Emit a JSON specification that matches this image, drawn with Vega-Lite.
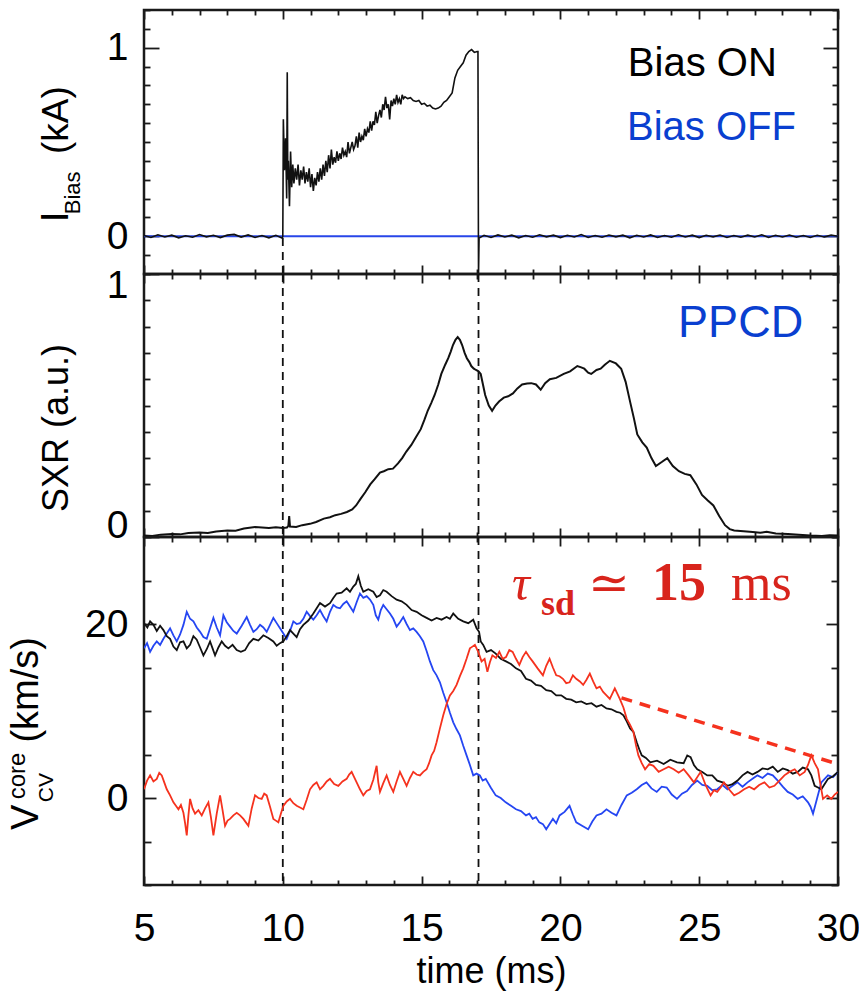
{
  "$schema": "https://vega.github.io/schema/vega-lite/v6.json",
  "padding": {"left": 4, "top": 7, "right": 12, "bottom": 0},
  "background": "white",
  "spacing": 0,
  "bounds": "flush",
  "config": {
    "view": {"stroke": "#1a1a1a", "strokeWidth": 2.5},
    "axis": {"domain": false, "grid": false, "tickColor": "#1a1a1a", "tickWidth": 1.8, "labelFont": "Liberation Sans", "labelFontSize": 39, "labelColor": "#000", "titleFont": "Liberation Sans", "titleFontWeight": "normal", "titleColor": "#000", "labelOverlap": false, "labelFlush": false, "labelBound": false, "minExtent": 0}
  },
  "datasets": {
    "vlines": [{"t": 10}, {"t": 17.05}],
    "axispt": [{"t": 5, "v": 0}],
    "ibias_on": [
      {"t":5.0,"v":0.004},{"t":5.25,"v":-0.006},{"t":5.5,"v":0.008},{"t":5.75,"v":-0.004},{"t":6.0,"v":0.006},{"t":6.25,"v":-0.008},{"t":6.5,"v":0.003},{"t":6.75,"v":-0.005},{"t":7.0,"v":0.009},{"t":7.25,"v":-0.003},{"t":7.5,"v":0.005},{"t":7.75,"v":-0.007},{"t":8.0,"v":0.006},{"t":8.25,"v":0.01},{"t":8.5,"v":-0.004},{"t":8.75,"v":0.007},{"t":9.0,"v":-0.006},{"t":9.25,"v":0.004},{"t":9.5,"v":-0.008},{"t":9.75,"v":0.005},{"t":9.98,"v":-0.01},{"t":10.0,"v":0.0},{"t":10.02,"v":0.62},{"t":10.06,"v":0.35},{"t":10.1,"v":0.52},{"t":10.14,"v":0.2},{"t":10.16,"v":0.87},{"t":10.18,"v":0.3},{"t":10.2,"v":0.4},{"t":10.24,"v":0.16},{"t":10.28,"v":0.45},{"t":10.32,"v":0.26},{"t":10.36,"v":0.38},{"t":10.4,"v":0.28},{"t":10.45,"v":0.36},{"t":10.5,"v":0.3},{"t":10.55,"v":0.38},{"t":10.6,"v":0.27},{"t":10.65,"v":0.35},{"t":10.7,"v":0.3},{"t":10.75,"v":0.37},{"t":10.8,"v":0.28},{"t":10.85,"v":0.34},{"t":10.9,"v":0.29},{"t":10.95,"v":0.36},{"t":11.0,"v":0.26},{"t":11.05,"v":0.33},{"t":11.1,"v":0.24},{"t":11.15,"v":0.31},{"t":11.2,"v":0.27},{"t":11.25,"v":0.34},{"t":11.3,"v":0.29},{"t":11.35,"v":0.36},{"t":11.4,"v":0.3},{"t":11.45,"v":0.38},{"t":11.5,"v":0.32},{"t":11.55,"v":0.4},{"t":11.6,"v":0.34},{"t":11.65,"v":0.43},{"t":11.7,"v":0.36},{"t":11.75,"v":0.46},{"t":11.8,"v":0.38},{"t":11.85,"v":0.42},{"t":11.9,"v":0.39},{"t":11.95,"v":0.45},{"t":12.0,"v":0.4},{"t":12.05,"v":0.44},{"t":12.1,"v":0.41},{"t":12.15,"v":0.47},{"t":12.2,"v":0.43},{"t":12.25,"v":0.45},{"t":12.3,"v":0.42},{"t":12.35,"v":0.5},{"t":12.4,"v":0.44},{"t":12.45,"v":0.47},{"t":12.5,"v":0.5},{"t":12.55,"v":0.46},{"t":12.6,"v":0.48},{"t":12.65,"v":0.53},{"t":12.7,"v":0.47},{"t":12.75,"v":0.55},{"t":12.8,"v":0.5},{"t":12.85,"v":0.53},{"t":12.9,"v":0.51},{"t":12.95,"v":0.57},{"t":13.0,"v":0.53},{"t":13.05,"v":0.57},{"t":13.1,"v":0.55},{"t":13.15,"v":0.61},{"t":13.2,"v":0.56},{"t":13.25,"v":0.61},{"t":13.3,"v":0.59},{"t":13.35,"v":0.66},{"t":13.4,"v":0.6},{"t":13.45,"v":0.64},{"t":13.5,"v":0.67},{"t":13.55,"v":0.63},{"t":13.6,"v":0.7},{"t":13.65,"v":0.67},{"t":13.7,"v":0.74},{"t":13.75,"v":0.68},{"t":13.8,"v":0.7},{"t":13.85,"v":0.62},{"t":13.9,"v":0.72},{"t":13.95,"v":0.69},{"t":14.0,"v":0.73},{"t":14.05,"v":0.7},{"t":14.1,"v":0.75},{"t":14.15,"v":0.71},{"t":14.2,"v":0.73},{"t":14.25,"v":0.7},{"t":14.3,"v":0.75},{"t":14.35,"v":0.73},{"t":14.4,"v":0.74},{"t":14.5,"v":0.73},{"t":14.6,"v":0.735},{"t":14.7,"v":0.72},{"t":14.8,"v":0.715},{"t":14.9,"v":0.72},{"t":15.0,"v":0.7},{"t":15.1,"v":0.705},{"t":15.2,"v":0.69},{"t":15.3,"v":0.695},{"t":15.4,"v":0.68},{"t":15.5,"v":0.675},{"t":15.6,"v":0.68},{"t":15.7,"v":0.69},{"t":15.8,"v":0.71},{"t":15.9,"v":0.72},{"t":16.0,"v":0.74},{"t":16.1,"v":0.76},{"t":16.2,"v":0.84},{"t":16.3,"v":0.88},{"t":16.4,"v":0.9},{"t":16.5,"v":0.92},{"t":16.6,"v":0.96},{"t":16.7,"v":0.98},{"t":16.8,"v":0.99},{"t":16.9,"v":0.975},{"t":17.0,"v":0.98},{"t":17.03,"v":0.98},{"t":17.05,"v":-0.21},{"t":17.07,"v":-0.01},{"t":17.25,"v":0.005},{"t":17.5,"v":-0.006},{"t":17.75,"v":0.007},{"t":18.0,"v":-0.004},{"t":18.25,"v":0.006},{"t":18.5,"v":-0.008},{"t":18.75,"v":0.004},{"t":19.0,"v":-0.005},{"t":19.25,"v":0.008},{"t":19.5,"v":-0.003},{"t":19.75,"v":0.006},{"t":20.0,"v":-0.007},{"t":20.25,"v":0.005},{"t":20.5,"v":-0.004},{"t":20.75,"v":0.009},{"t":21.0,"v":-0.006},{"t":21.25,"v":0.004},{"t":21.5,"v":-0.005},{"t":21.75,"v":0.007},{"t":22.0,"v":-0.003},{"t":22.25,"v":0.006},{"t":22.5,"v":-0.008},{"t":22.75,"v":0.005},{"t":23.0,"v":-0.004},{"t":23.25,"v":0.007},{"t":23.5,"v":-0.006},{"t":23.75,"v":0.004},{"t":24.0,"v":-0.005},{"t":24.25,"v":0.008},{"t":24.5,"v":-0.004},{"t":24.75,"v":0.006},{"t":25.0,"v":-0.007},{"t":25.25,"v":0.005},{"t":25.5,"v":-0.003},{"t":25.75,"v":0.007},{"t":26.0,"v":-0.006},{"t":26.25,"v":0.004},{"t":26.5,"v":-0.005},{"t":26.75,"v":0.006},{"t":27.0,"v":-0.004},{"t":27.25,"v":0.008},{"t":27.5,"v":-0.006},{"t":27.75,"v":0.005},{"t":28.0,"v":-0.004},{"t":28.25,"v":0.007},{"t":28.5,"v":-0.005},{"t":28.75,"v":0.004},{"t":29.0,"v":-0.006},{"t":29.25,"v":0.005},{"t":29.5,"v":-0.004},{"t":29.75,"v":0.006},{"t":30.0,"v":0.0}
    ],
    "ibias_off": [{"t": 5, "v": 0}, {"t": 30, "v": 0}],
    "sxr": [
      {"t":5.0,"v":0.006},{"t":5.3,"v":0.004},{"t":5.6,"v":0.009},{"t":6.0,"v":0.011},{"t":6.3,"v":0.01},{"t":6.6,"v":0.015},{"t":7.0,"v":0.017},{"t":7.3,"v":0.015},{"t":7.6,"v":0.021},{"t":8.0,"v":0.025},{"t":8.3,"v":0.024},{"t":8.6,"v":0.032},{"t":9.0,"v":0.038},{"t":9.25,"v":0.036},{"t":9.5,"v":0.034},{"t":9.75,"v":0.037},{"t":10.0,"v":0.034},{"t":10.15,"v":0.036},{"t":10.2,"v":0.042},{"t":10.23,"v":0.08},{"t":10.26,"v":0.04},{"t":10.48,"v":0.038},{"t":10.7,"v":0.045},{"t":10.98,"v":0.05},{"t":11.2,"v":0.057},{"t":11.48,"v":0.07},{"t":11.7,"v":0.075},{"t":11.89,"v":0.083},{"t":12.1,"v":0.088},{"t":12.31,"v":0.095},{"t":12.5,"v":0.105},{"t":12.64,"v":0.12},{"t":12.8,"v":0.145},{"t":12.97,"v":0.17},{"t":13.15,"v":0.2},{"t":13.31,"v":0.22},{"t":13.5,"v":0.245},{"t":13.64,"v":0.25},{"t":13.8,"v":0.258},{"t":13.97,"v":0.26},{"t":14.15,"v":0.28},{"t":14.3,"v":0.3},{"t":14.45,"v":0.325},{"t":14.63,"v":0.35},{"t":14.8,"v":0.38},{"t":14.97,"v":0.41},{"t":15.1,"v":0.445},{"t":15.22,"v":0.48},{"t":15.35,"v":0.51},{"t":15.47,"v":0.54},{"t":15.6,"v":0.58},{"t":15.71,"v":0.62},{"t":15.85,"v":0.655},{"t":15.96,"v":0.68},{"t":16.05,"v":0.705},{"t":16.13,"v":0.73},{"t":16.22,"v":0.75},{"t":16.3,"v":0.76},{"t":16.38,"v":0.75},{"t":16.46,"v":0.73},{"t":16.55,"v":0.7},{"t":16.63,"v":0.68},{"t":16.72,"v":0.665},{"t":16.79,"v":0.65},{"t":16.88,"v":0.64},{"t":16.96,"v":0.635},{"t":17.05,"v":0.63},{"t":17.13,"v":0.62},{"t":17.21,"v":0.58},{"t":17.29,"v":0.54},{"t":17.42,"v":0.5},{"t":17.54,"v":0.48},{"t":17.66,"v":0.5},{"t":17.79,"v":0.515},{"t":17.96,"v":0.53},{"t":18.12,"v":0.535},{"t":18.29,"v":0.546},{"t":18.45,"v":0.565},{"t":18.62,"v":0.58},{"t":18.8,"v":0.584},{"t":18.95,"v":0.585},{"t":19.12,"v":0.58},{"t":19.29,"v":0.56},{"t":19.45,"v":0.585},{"t":19.62,"v":0.6},{"t":19.85,"v":0.605},{"t":20.12,"v":0.62},{"t":20.35,"v":0.63},{"t":20.61,"v":0.65},{"t":20.75,"v":0.645},{"t":20.86,"v":0.64},{"t":21.0,"v":0.625},{"t":21.11,"v":0.62},{"t":21.3,"v":0.635},{"t":21.45,"v":0.64},{"t":21.6,"v":0.655},{"t":21.78,"v":0.67},{"t":22.0,"v":0.66},{"t":22.19,"v":0.64},{"t":22.35,"v":0.59},{"t":22.52,"v":0.51},{"t":22.65,"v":0.45},{"t":22.77,"v":0.39},{"t":22.95,"v":0.36},{"t":23.11,"v":0.34},{"t":23.28,"v":0.3},{"t":23.44,"v":0.27},{"t":23.65,"v":0.285},{"t":23.85,"v":0.3},{"t":24.05,"v":0.27},{"t":24.27,"v":0.25},{"t":24.48,"v":0.24},{"t":24.68,"v":0.235},{"t":24.9,"v":0.2},{"t":25.1,"v":0.16},{"t":25.3,"v":0.14},{"t":25.51,"v":0.12},{"t":25.72,"v":0.08},{"t":25.93,"v":0.045},{"t":26.1,"v":0.03},{"t":26.26,"v":0.025},{"t":26.6,"v":0.022},{"t":26.93,"v":0.019},{"t":27.2,"v":0.016},{"t":27.43,"v":0.02},{"t":27.76,"v":0.013},{"t":28.2,"v":0.011},{"t":28.59,"v":0.009},{"t":29.0,"v":0.006},{"t":29.42,"v":0.004},{"t":29.7,"v":0.007},{"t":30.0,"v":0.006}
    ],
    "v_on": [
      {"t":5.0,"v":20.1},{"t":5.12,"v":19.6},{"t":5.22,"v":20.3},{"t":5.34,"v":19.9},{"t":5.46,"v":19.2},{"t":5.58,"v":19.8},{"t":5.7,"v":19.3},{"t":5.82,"v":18.6},{"t":5.94,"v":18.3},{"t":6.06,"v":17.4},{"t":6.18,"v":17.0},{"t":6.3,"v":17.9},{"t":6.42,"v":18.0},{"t":6.54,"v":17.2},{"t":6.66,"v":17.6},{"t":6.78,"v":18.6},{"t":6.9,"v":18.2},{"t":7.02,"v":17.3},{"t":7.14,"v":16.4},{"t":7.26,"v":17.1},{"t":7.38,"v":18.0},{"t":7.47,"v":17.2},{"t":7.56,"v":16.4},{"t":7.68,"v":17.3},{"t":7.8,"v":18.0},{"t":7.92,"v":17.5},{"t":8.04,"v":17.2},{"t":8.19,"v":17.6},{"t":8.34,"v":17.0},{"t":8.49,"v":16.8},{"t":8.64,"v":17.0},{"t":8.79,"v":17.8},{"t":8.94,"v":18.3},{"t":9.12,"v":18.1},{"t":9.3,"v":18.7},{"t":9.48,"v":18.4},{"t":9.66,"v":18.0},{"t":9.78,"v":17.5},{"t":9.9,"v":17.8},{"t":10.02,"v":18.0},{"t":10.14,"v":18.6},{"t":10.26,"v":19.3},{"t":10.38,"v":18.9},{"t":10.5,"v":18.5},{"t":10.62,"v":19.4},{"t":10.74,"v":19.9},{"t":10.92,"v":20.4},{"t":11.1,"v":21.2},{"t":11.22,"v":21.8},{"t":11.34,"v":22.4},{"t":11.52,"v":22.0},{"t":11.7,"v":22.4},{"t":11.82,"v":23.0},{"t":11.94,"v":23.5},{"t":12.12,"v":23.6},{"t":12.3,"v":24.1},{"t":12.42,"v":23.7},{"t":12.54,"v":24.3},{"t":12.63,"v":24.6},{"t":12.72,"v":25.5},{"t":12.81,"v":24.4},{"t":12.9,"v":23.7},{"t":13.08,"v":24.0},{"t":13.26,"v":23.7},{"t":13.38,"v":23.1},{"t":13.5,"v":23.3},{"t":13.62,"v":23.9},{"t":13.74,"v":23.7},{"t":13.92,"v":23.2},{"t":14.1,"v":22.8},{"t":14.28,"v":22.6},{"t":14.46,"v":22.2},{"t":14.64,"v":21.6},{"t":14.82,"v":21.4},{"t":15.0,"v":21.0},{"t":15.18,"v":20.7},{"t":15.36,"v":20.4},{"t":15.54,"v":20.7},{"t":15.72,"v":20.5},{"t":15.9,"v":20.8},{"t":16.02,"v":20.6},{"t":16.14,"v":21.2},{"t":16.32,"v":20.6},{"t":16.5,"v":20.3},{"t":16.68,"v":20.1},{"t":16.86,"v":20.5},{"t":16.98,"v":19.5},{"t":17.07,"v":19.1},{"t":17.13,"v":18.0},{"t":17.22,"v":17.6},{"t":17.34,"v":16.8},{"t":17.5,"v":17.0},{"t":17.67,"v":16.6},{"t":17.85,"v":16.0},{"t":18.04,"v":15.7},{"t":18.22,"v":15.4},{"t":18.4,"v":14.9},{"t":18.58,"v":14.6},{"t":18.76,"v":13.7},{"t":18.94,"v":13.5},{"t":19.12,"v":13.0},{"t":19.3,"v":12.9},{"t":19.49,"v":12.4},{"t":19.67,"v":12.3},{"t":19.85,"v":11.8},{"t":20.03,"v":11.8},{"t":20.21,"v":11.4},{"t":20.39,"v":11.3},{"t":20.57,"v":11.0},{"t":20.75,"v":11.1},{"t":20.94,"v":10.8},{"t":21.12,"v":10.9},{"t":21.3,"v":10.5},{"t":21.48,"v":10.7},{"t":21.66,"v":10.3},{"t":21.84,"v":10.2},{"t":22.02,"v":9.9},{"t":22.15,"v":9.8},{"t":22.27,"v":9.5},{"t":22.39,"v":8.8},{"t":22.51,"v":8.0},{"t":22.63,"v":7.6},{"t":22.75,"v":6.4},{"t":22.84,"v":5.6},{"t":22.93,"v":4.9},{"t":23.08,"v":4.6},{"t":23.24,"v":4.1},{"t":23.48,"v":4.3},{"t":23.72,"v":3.9},{"t":23.96,"v":4.4},{"t":24.2,"v":4.1},{"t":24.44,"v":4.0},{"t":24.57,"v":4.9},{"t":24.69,"v":4.7},{"t":24.81,"v":3.8},{"t":24.93,"v":3.3},{"t":25.11,"v":3.0},{"t":25.29,"v":2.6},{"t":25.47,"v":2.6},{"t":25.65,"v":2.0},{"t":25.84,"v":1.8},{"t":26.02,"v":1.4},{"t":26.2,"v":1.6},{"t":26.38,"v":2.0},{"t":26.56,"v":2.6},{"t":26.74,"v":3.0},{"t":26.92,"v":2.7},{"t":27.1,"v":3.0},{"t":27.28,"v":3.4},{"t":27.47,"v":3.3},{"t":27.65,"v":3.6},{"t":27.83,"v":3.0},{"t":28.01,"v":3.4},{"t":28.19,"v":3.2},{"t":28.37,"v":2.8},{"t":28.55,"v":3.0},{"t":28.73,"v":3.5},{"t":28.92,"v":3.3},{"t":29.04,"v":2.6},{"t":29.16,"v":1.4},{"t":29.28,"v":1.2},{"t":29.4,"v":1.0},{"t":29.52,"v":1.6},{"t":29.64,"v":2.2},{"t":29.82,"v":2.5},{"t":30.0,"v":3.0}
    ],
    "v_off": [
      {"t":5.0,"v":17.2},{"t":5.11,"v":17.8},{"t":5.22,"v":16.8},{"t":5.34,"v":17.5},{"t":5.46,"v":18.0},{"t":5.58,"v":17.6},{"t":5.7,"v":18.3},{"t":5.82,"v":18.9},{"t":5.94,"v":19.5},{"t":6.06,"v":18.7},{"t":6.18,"v":18.0},{"t":6.3,"v":18.8},{"t":6.42,"v":19.9},{"t":6.54,"v":21.4},{"t":6.66,"v":20.6},{"t":6.78,"v":20.3},{"t":6.9,"v":19.6},{"t":7.02,"v":19.1},{"t":7.14,"v":18.5},{"t":7.26,"v":18.3},{"t":7.38,"v":19.5},{"t":7.5,"v":20.7},{"t":7.62,"v":19.6},{"t":7.74,"v":18.7},{"t":7.86,"v":21.0},{"t":7.98,"v":20.2},{"t":8.1,"v":19.7},{"t":8.22,"v":19.2},{"t":8.34,"v":18.9},{"t":8.52,"v":19.8},{"t":8.7,"v":20.8},{"t":8.82,"v":19.9},{"t":8.94,"v":19.1},{"t":9.06,"v":19.4},{"t":9.18,"v":19.9},{"t":9.3,"v":19.6},{"t":9.42,"v":19.1},{"t":9.54,"v":19.9},{"t":9.66,"v":20.7},{"t":9.78,"v":20.1},{"t":9.9,"v":19.5},{"t":10.02,"v":18.9},{"t":10.14,"v":18.3},{"t":10.26,"v":19.2},{"t":10.38,"v":20.3},{"t":10.5,"v":20.0},{"t":10.62,"v":20.1},{"t":10.74,"v":20.6},{"t":10.86,"v":21.4},{"t":10.98,"v":20.9},{"t":11.1,"v":20.5},{"t":11.22,"v":21.0},{"t":11.34,"v":21.6},{"t":11.46,"v":20.9},{"t":11.58,"v":20.3},{"t":11.7,"v":21.4},{"t":11.82,"v":22.2},{"t":11.94,"v":21.9},{"t":12.06,"v":21.8},{"t":12.18,"v":22.3},{"t":12.3,"v":22.6},{"t":12.42,"v":22.0},{"t":12.54,"v":21.4},{"t":12.66,"v":22.5},{"t":12.78,"v":23.5},{"t":12.9,"v":23.0},{"t":13.02,"v":23.2},{"t":13.14,"v":22.8},{"t":13.26,"v":22.2},{"t":13.35,"v":21.0},{"t":13.44,"v":20.5},{"t":13.53,"v":21.6},{"t":13.62,"v":22.2},{"t":13.74,"v":21.7},{"t":13.86,"v":21.2},{"t":13.98,"v":20.6},{"t":14.1,"v":19.7},{"t":14.22,"v":20.2},{"t":14.34,"v":20.8},{"t":14.46,"v":20.0},{"t":14.58,"v":19.3},{"t":14.7,"v":19.5},{"t":14.82,"v":19.1},{"t":14.94,"v":18.6},{"t":15.06,"v":18.0},{"t":15.18,"v":16.9},{"t":15.3,"v":15.7},{"t":15.42,"v":14.7},{"t":15.54,"v":14.1},{"t":15.66,"v":13.3},{"t":15.78,"v":12.1},{"t":15.9,"v":11.0},{"t":16.02,"v":9.8},{"t":16.14,"v":8.7},{"t":16.26,"v":7.9},{"t":16.38,"v":7.2},{"t":16.5,"v":6.0},{"t":16.62,"v":4.9},{"t":16.74,"v":3.8},{"t":16.86,"v":2.6},{"t":16.98,"v":2.8},{"t":17.1,"v":2.6},{"t":17.2,"v":2.0},{"t":17.31,"v":2.2},{"t":17.49,"v":1.2},{"t":17.67,"v":0.3},{"t":17.85,"v":0.0},{"t":18.03,"v":-0.5},{"t":18.22,"v":-0.9},{"t":18.4,"v":-1.3},{"t":18.58,"v":-1.5},{"t":18.76,"v":-2.0},{"t":18.88,"v":-1.8},{"t":19.0,"v":-2.4},{"t":19.12,"v":-2.2},{"t":19.24,"v":-2.8},{"t":19.37,"v":-3.0},{"t":19.49,"v":-3.6},{"t":19.61,"v":-3.0},{"t":19.73,"v":-2.4},{"t":19.85,"v":-2.9},{"t":19.97,"v":-2.0},{"t":20.15,"v":-1.6},{"t":20.33,"v":-0.9},{"t":20.45,"v":-1.9},{"t":20.57,"v":-2.8},{"t":20.78,"v":-3.2},{"t":21.0,"v":-3.6},{"t":21.15,"v":-2.7},{"t":21.3,"v":-2.0},{"t":21.48,"v":-1.8},{"t":21.66,"v":-1.3},{"t":21.84,"v":-1.7},{"t":22.02,"v":-2.0},{"t":22.2,"v":-0.8},{"t":22.39,"v":0.3},{"t":22.57,"v":0.6},{"t":22.75,"v":1.0},{"t":22.93,"v":1.5},{"t":23.1,"v":1.8},{"t":23.28,"v":1.1},{"t":23.47,"v":0.7},{"t":23.65,"v":1.3},{"t":23.83,"v":1.2},{"t":24.01,"v":0.4},{"t":24.2,"v":-0.1},{"t":24.38,"v":0.5},{"t":24.56,"v":0.8},{"t":24.74,"v":1.5},{"t":24.93,"v":2.0},{"t":25.11,"v":1.5},{"t":25.29,"v":1.4},{"t":25.47,"v":0.9},{"t":25.65,"v":1.0},{"t":25.84,"v":1.5},{"t":26.02,"v":1.0},{"t":26.2,"v":1.4},{"t":26.38,"v":1.8},{"t":26.56,"v":1.3},{"t":26.74,"v":1.8},{"t":26.92,"v":2.2},{"t":27.1,"v":2.6},{"t":27.28,"v":2.3},{"t":27.47,"v":2.8},{"t":27.65,"v":2.6},{"t":27.83,"v":2.0},{"t":28.01,"v":1.3},{"t":28.19,"v":0.7},{"t":28.37,"v":0.4},{"t":28.55,"v":-0.1},{"t":28.73,"v":0.2},{"t":28.92,"v":-0.5},{"t":29.01,"v":-1.0},{"t":29.1,"v":-1.8},{"t":29.25,"v":0.0},{"t":29.4,"v":1.8},{"t":29.52,"v":2.2},{"t":29.64,"v":2.6},{"t":29.82,"v":2.4},{"t":30.0,"v":3.0}
    ],
    "v_ppcd": [
      {"t":5.0,"v":1.0},{"t":5.11,"v":2.0},{"t":5.22,"v":2.6},{"t":5.34,"v":1.9},{"t":5.46,"v":2.2},{"t":5.55,"v":2.9},{"t":5.64,"v":2.6},{"t":5.73,"v":1.8},{"t":5.82,"v":1.0},{"t":5.94,"v":0.3},{"t":6.06,"v":-0.5},{"t":6.15,"v":-0.9},{"t":6.24,"v":-1.3},{"t":6.33,"v":-0.8},{"t":6.42,"v":-1.7},{"t":6.48,"v":-2.9},{"t":6.54,"v":-4.3},{"t":6.6,"v":-2.0},{"t":6.66,"v":-0.1},{"t":6.75,"v":-1.2},{"t":6.84,"v":-1.8},{"t":6.96,"v":-1.4},{"t":7.08,"v":-2.0},{"t":7.2,"v":-1.2},{"t":7.32,"v":-0.5},{"t":7.41,"v":-2.2},{"t":7.5,"v":-4.3},{"t":7.62,"v":-1.8},{"t":7.74,"v":0.3},{"t":7.83,"v":-1.4},{"t":7.92,"v":-3.2},{"t":8.01,"v":-2.6},{"t":8.1,"v":-2.4},{"t":8.22,"v":-2.0},{"t":8.34,"v":-1.7},{"t":8.46,"v":-2.0},{"t":8.58,"v":-2.4},{"t":8.67,"v":-2.8},{"t":8.76,"v":-3.2},{"t":8.88,"v":-1.2},{"t":9.0,"v":0.3},{"t":9.12,"v":0.0},{"t":9.24,"v":-0.1},{"t":9.33,"v":0.5},{"t":9.42,"v":0.3},{"t":9.54,"v":-1.0},{"t":9.66,"v":-2.4},{"t":9.75,"v":-2.6},{"t":9.84,"v":-2.8},{"t":9.93,"v":-1.8},{"t":10.02,"v":-0.9},{"t":10.14,"v":-0.4},{"t":10.26,"v":-0.1},{"t":10.38,"v":-0.6},{"t":10.5,"v":-0.9},{"t":10.62,"v":-1.1},{"t":10.74,"v":-1.3},{"t":10.86,"v":-0.2},{"t":10.98,"v":1.0},{"t":11.1,"v":1.5},{"t":11.22,"v":1.8},{"t":11.34,"v":1.0},{"t":11.46,"v":1.4},{"t":11.58,"v":1.9},{"t":11.7,"v":2.2},{"t":11.85,"v":1.6},{"t":12.0,"v":1.4},{"t":12.15,"v":1.9},{"t":12.3,"v":2.2},{"t":12.39,"v":2.7},{"t":12.48,"v":3.0},{"t":12.57,"v":2.4},{"t":12.66,"v":1.8},{"t":12.78,"v":1.0},{"t":12.9,"v":0.3},{"t":13.02,"v":0.8},{"t":13.14,"v":1.0},{"t":13.26,"v":2.1},{"t":13.38,"v":3.7},{"t":13.44,"v":1.8},{"t":13.5,"v":0.7},{"t":13.62,"v":1.7},{"t":13.74,"v":2.6},{"t":13.86,"v":1.5},{"t":13.98,"v":0.7},{"t":14.1,"v":1.9},{"t":14.22,"v":3.0},{"t":14.34,"v":2.2},{"t":14.46,"v":1.4},{"t":14.58,"v":2.3},{"t":14.7,"v":3.0},{"t":14.82,"v":2.7},{"t":14.94,"v":2.6},{"t":15.06,"v":3.0},{"t":15.18,"v":3.3},{"t":15.27,"v":4.0},{"t":15.36,"v":4.9},{"t":15.45,"v":5.4},{"t":15.54,"v":6.4},{"t":15.66,"v":8.0},{"t":15.78,"v":9.5},{"t":15.9,"v":10.8},{"t":16.02,"v":11.8},{"t":16.14,"v":12.3},{"t":16.26,"v":13.0},{"t":16.38,"v":14.0},{"t":16.5,"v":14.9},{"t":16.62,"v":16.0},{"t":16.74,"v":17.2},{"t":16.83,"v":17.4},{"t":16.92,"v":17.6},{"t":17.04,"v":16.8},{"t":17.16,"v":15.7},{"t":17.27,"v":16.0},{"t":17.37,"v":14.5},{"t":17.46,"v":15.6},{"t":17.55,"v":16.4},{"t":17.68,"v":16.1},{"t":17.8,"v":16.8},{"t":17.92,"v":16.0},{"t":18.04,"v":16.2},{"t":18.16,"v":17.0},{"t":18.28,"v":16.8},{"t":18.4,"v":16.0},{"t":18.52,"v":15.3},{"t":18.64,"v":16.2},{"t":18.76,"v":16.8},{"t":18.88,"v":16.2},{"t":19.0,"v":15.7},{"t":19.18,"v":14.9},{"t":19.37,"v":14.1},{"t":19.49,"v":15.2},{"t":19.61,"v":16.0},{"t":19.73,"v":15.0},{"t":19.85,"v":14.1},{"t":19.97,"v":14.0},{"t":20.09,"v":13.7},{"t":20.21,"v":13.2},{"t":20.33,"v":13.3},{"t":20.45,"v":14.1},{"t":20.57,"v":13.7},{"t":20.7,"v":13.4},{"t":20.82,"v":13.0},{"t":20.94,"v":13.6},{"t":21.06,"v":14.3},{"t":21.18,"v":13.4},{"t":21.3,"v":12.6},{"t":21.42,"v":12.8},{"t":21.54,"v":12.2},{"t":21.66,"v":11.8},{"t":21.78,"v":11.4},{"t":21.87,"v":12.0},{"t":21.96,"v":12.6},{"t":22.05,"v":12.0},{"t":22.14,"v":11.4},{"t":22.27,"v":10.4},{"t":22.39,"v":9.1},{"t":22.51,"v":8.4},{"t":22.63,"v":7.6},{"t":22.72,"v":6.1},{"t":22.81,"v":4.9},{"t":22.93,"v":4.0},{"t":23.05,"v":3.3},{"t":23.2,"v":3.9},{"t":23.35,"v":3.7},{"t":23.54,"v":3.0},{"t":23.72,"v":3.3},{"t":23.9,"v":3.6},{"t":24.08,"v":3.3},{"t":24.26,"v":2.9},{"t":24.44,"v":3.3},{"t":24.62,"v":2.6},{"t":24.81,"v":1.8},{"t":24.93,"v":2.4},{"t":25.05,"v":3.0},{"t":25.23,"v":1.5},{"t":25.41,"v":0.3},{"t":25.53,"v":0.9},{"t":25.65,"v":0.7},{"t":25.77,"v":1.2},{"t":25.89,"v":1.8},{"t":26.07,"v":1.0},{"t":26.26,"v":0.3},{"t":26.44,"v":0.6},{"t":26.62,"v":1.0},{"t":26.8,"v":1.3},{"t":26.98,"v":1.0},{"t":27.16,"v":1.5},{"t":27.35,"v":1.8},{"t":27.53,"v":1.2},{"t":27.71,"v":1.4},{"t":27.89,"v":2.0},{"t":28.07,"v":2.6},{"t":28.25,"v":3.0},{"t":28.44,"v":3.3},{"t":28.62,"v":2.6},{"t":28.8,"v":3.0},{"t":28.92,"v":3.8},{"t":29.04,"v":4.9},{"t":29.16,"v":4.0},{"t":29.28,"v":3.3},{"t":29.37,"v":1.5},{"t":29.46,"v":-0.1},{"t":29.61,"v":0.3},{"t":29.76,"v":-0.1},{"t":29.88,"v":0.4},{"t":30.0,"v":0.7}
    ],
    "fit": [{"t": 22.2, "v": 11.5}, {"t": 30.0, "v": 3.9}]
  },
  "vconcat": [
    {
      "width": 694, "height": 264,
      "resolve": {"axis": {"x": "independent", "y": "independent"}},
      "layer": [
        {"data": {"name": "axispt"}, "mark": {"type": "point", "opacity": 0},
         "encoding": {
           "x": {"field": "t", "type": "quantitative", "scale": {"domain": [5, 30], "nice": false, "zero": false},
                 "axis": {"orient": "bottom", "values": [5,6,7,8,9,10,11,12,13,14,15,16,17,18,19,20,21,22,23,24,25,26,27,28,29,30], "labels": false, "title": null,
                          "tickSize": {"condition": {"test": "datum.value % 5 === 0", "value": -9}, "value": -5}}},
           "y": {"field": "v", "type": "quantitative", "scale": {"domain": [-0.2, 1.2], "nice": false, "zero": false},
                 "axis": {"orient": "left", "values": [-0.2,-0.1,0,0.1,0.2,0.3,0.4,0.5,0.6,0.7,0.8,0.9,1,1.1,1.2], "title": null,
                          "labelExpr": "datum.value === 0 ? '0' : datum.value === 1 ? '1' : ''", "labelPadding": 31,
                          "labelFontSize": {"condition": {"test": "datum.value === 0 || datum.value === 1", "value": 39}, "value": 0},
                          "tickSize": {"condition": {"test": "datum.value === 0 || datum.value === 1", "value": -15}, "value": -6}}}
         }},
        {"data": {"name": "axispt"}, "mark": {"type": "point", "opacity": 0},
         "encoding": {
           "x": {"field": "t", "type": "quantitative", "scale": {"domain": [5, 30], "nice": false, "zero": false},
                 "axis": {"orient": "top", "values": [5,6,7,8,9,10,11,12,13,14,15,16,17,18,19,20,21,22,23,24,25,26,27,28,29,30], "labels": false, "title": null,
                          "tickSize": {"condition": {"test": "datum.value % 5 === 0", "value": -9}, "value": -5}}},
           "y": {"field": "v", "type": "quantitative", "scale": {"domain": [-0.2, 1.2], "nice": false, "zero": false},
                 "axis": {"orient": "right", "values": [-0.2,-0.1,0,0.1,0.2,0.3,0.4,0.5,0.6,0.7,0.8,0.9,1,1.1,1.2], "labels": false, "title": null,
                          "tickSize": {"condition": {"test": "datum.value === 0 || datum.value === 1", "value": -15}, "value": -6}}}
         }},
        {"data": {"name": "vlines"}, "transform": [{"filter": "datum.t < 11"}],
         "mark": {"type": "rule", "color": "#111", "strokeWidth": 1.8, "strokeDash": [8, 6]},
         "encoding": {
           "x": {"field": "t", "type": "quantitative", "scale": {"domain": [5, 30], "nice": false, "zero": false}, "axis": null},
           "y": {"datum": -0.2, "type": "quantitative", "scale": {"domain": [-0.2, 1.2], "nice": false, "zero": false}, "axis": null},
           "y2": {"datum": 0}
         }},
        {"data": {"name": "ibias_off"}, "mark": {"type": "line", "color": "#2846e8", "strokeWidth": 2, "clip": true},
         "encoding": {
           "x": {"field": "t", "type": "quantitative", "scale": {"domain": [5, 30], "nice": false, "zero": false}, "axis": null},
           "y": {"field": "v", "type": "quantitative", "scale": {"domain": [-0.2, 1.2], "nice": false, "zero": false}, "axis": null}
         }},
        {"data": {"name": "ibias_on"}, "mark": {"type": "line", "color": "#111", "strokeWidth": 1.6, "clip": true},
         "encoding": {
           "x": {"field": "t", "type": "quantitative", "scale": {"domain": [5, 30], "nice": false, "zero": false}, "axis": null},
           "y": {"field": "v", "type": "quantitative", "scale": {"domain": [-0.2, 1.2], "nice": false, "zero": false}, "axis": null}
         }},
        {"data": {"values": [{}]}, "mark": {"type": "text", "text": "Bias ON", "font": "Liberation Sans", "fontSize": 40, "align": "left", "baseline": "alphabetic", "color": "#000"},
         "encoding": {
           "x": {"datum": 22.43, "type": "quantitative", "scale": {"domain": [5, 30], "nice": false, "zero": false}, "axis": null},
           "y": {"datum": 0.851, "type": "quantitative", "scale": {"domain": [-0.2, 1.2], "nice": false, "zero": false}, "axis": null}
         }},
        {"data": {"values": [{}]}, "mark": {"type": "text", "text": "Bias OFF", "font": "Liberation Sans", "fontSize": 40, "align": "left", "baseline": "alphabetic", "color": "#0a3fd0"},
         "encoding": {
           "x": {"datum": 22.4, "type": "quantitative", "scale": {"domain": [5, 30], "nice": false, "zero": false}, "axis": null},
           "y": {"datum": 0.511, "type": "quantitative", "scale": {"domain": [-0.2, 1.2], "nice": false, "zero": false}, "axis": null}
         }},
        {"data": {"values": [{}]}, "mark": {"type": "text", "text": "I", "font": "Liberation Sans", "fontSize": 39, "angle": 270, "align": "left", "baseline": "alphabetic", "color": "#000"},
         "encoding": {
           "x": {"datum": 2.262, "type": "quantitative", "scale": {"domain": [5, 30], "nice": false, "zero": false}, "axis": null},
           "y": {"datum": 0.0745, "type": "quantitative", "scale": {"domain": [-0.2, 1.2], "nice": false, "zero": false}, "axis": null}
         }},
        {"data": {"values": [{}]}, "mark": {"type": "text", "text": "Bias", "font": "Liberation Sans", "fontSize": 22, "angle": 270, "align": "left", "baseline": "alphabetic", "color": "#000"},
         "encoding": {
           "x": {"datum": 2.695, "type": "quantitative", "scale": {"domain": [5, 30], "nice": false, "zero": false}, "axis": null},
           "y": {"datum": 0.117, "type": "quantitative", "scale": {"domain": [-0.2, 1.2], "nice": false, "zero": false}, "axis": null}
         }},
        {"data": {"values": [{}]}, "mark": {"type": "text", "text": "(kA)", "font": "Liberation Sans", "fontSize": 37, "angle": 270, "align": "left", "baseline": "alphabetic", "color": "#000"},
         "encoding": {
           "x": {"datum": 2.262, "type": "quantitative", "scale": {"domain": [5, 30], "nice": false, "zero": false}, "axis": null},
           "y": {"datum": 0.436, "type": "quantitative", "scale": {"domain": [-0.2, 1.2], "nice": false, "zero": false}, "axis": null}
         }}
      ]
    },
    {
      "width": 694, "height": 263,
      "resolve": {"axis": {"x": "independent", "y": "independent"}},
      "layer": [
        {"data": {"name": "axispt"}, "mark": {"type": "point", "opacity": 0},
         "encoding": {
           "x": {"field": "t", "type": "quantitative", "scale": {"domain": [5, 30], "nice": false, "zero": false},
                 "axis": {"orient": "bottom", "values": [5,6,7,8,9,10,11,12,13,14,15,16,17,18,19,20,21,22,23,24,25,26,27,28,29,30], "labels": false, "title": null,
                          "tickSize": {"condition": {"test": "datum.value % 5 === 0", "value": -9}, "value": -5}}},
           "y": {"field": "v", "type": "quantitative", "scale": {"domain": [0, 1], "nice": false, "zero": false},
                 "axis": {"orient": "left", "values": [0,0.1,0.2,0.3,0.4,0.5,0.6,0.7,0.8,0.9,1], "title": null,
                          "labelExpr": "datum.value === 0 ? '0' : datum.value === 1 ? '1' : ''", "labelPadding": 31,
                          "labelOffset": {"condition": {"test": "datum.value === 1", "value": 11}, "value": -12},
                          "labelFontSize": {"condition": {"test": "datum.value === 0 || datum.value === 1", "value": 39}, "value": 0},
                          "tickSize": {"condition": {"test": "datum.value === 0 || datum.value === 1", "value": -15}, "value": -6}}}
         }},
        {"data": {"name": "axispt"}, "mark": {"type": "point", "opacity": 0},
         "encoding": {
           "x": {"field": "t", "type": "quantitative", "scale": {"domain": [5, 30], "nice": false, "zero": false},
                 "axis": {"orient": "top", "values": [5,6,7,8,9,10,11,12,13,14,15,16,17,18,19,20,21,22,23,24,25,26,27,28,29,30], "labels": false, "title": null,
                          "tickSize": {"condition": {"test": "datum.value % 5 === 0", "value": -9}, "value": -5}}},
           "y": {"field": "v", "type": "quantitative", "scale": {"domain": [0, 1], "nice": false, "zero": false},
                 "axis": {"orient": "right", "values": [0,0.1,0.2,0.3,0.4,0.5,0.6,0.7,0.8,0.9,1], "labels": false, "title": null, "tickSize": -6}}
         }},
        {"data": {"name": "vlines"},
         "mark": {"type": "rule", "color": "#111", "strokeWidth": 1.8, "strokeDash": [8, 6]},
         "encoding": {
           "x": {"field": "t", "type": "quantitative", "scale": {"domain": [5, 30], "nice": false, "zero": false}, "axis": null}
         }},
        {"data": {"name": "sxr"}, "mark": {"type": "line", "color": "#111", "strokeWidth": 2, "clip": true},
         "encoding": {
           "x": {"field": "t", "type": "quantitative", "scale": {"domain": [5, 30], "nice": false, "zero": false}, "axis": null},
           "y": {"field": "v", "type": "quantitative", "scale": {"domain": [0, 1], "nice": false, "zero": false}, "axis": null}
         }},
        {"data": {"values": [{}]}, "mark": {"type": "text", "text": "PPCD", "font": "Liberation Sans", "fontSize": 45, "align": "left", "baseline": "alphabetic", "color": "#0a3fd0"},
         "encoding": {
           "x": {"datum": 24.24, "type": "quantitative", "scale": {"domain": [5, 30], "nice": false, "zero": false}, "axis": null},
           "y": {"datum": 0.762, "type": "quantitative", "scale": {"domain": [0, 1], "nice": false, "zero": false}, "axis": null}
         }},
        {"data": {"values": [{}]}, "mark": {"type": "text", "text": "SXR (a.u.)", "font": "Liberation Sans", "fontSize": 36, "angle": 270, "align": "left", "baseline": "alphabetic", "color": "#000"},
         "encoding": {
           "x": {"datum": 2.262, "type": "quantitative", "scale": {"domain": [5, 30], "nice": false, "zero": false}, "axis": null},
           "y": {"datum": 0.095, "type": "quantitative", "scale": {"domain": [0, 1], "nice": false, "zero": false}, "axis": null}
         }}
      ]
    },
    {
      "width": 694, "height": 348,
      "resolve": {"axis": {"x": "independent", "y": "independent"}},
      "layer": [
        {"data": {"name": "axispt"}, "mark": {"type": "point", "opacity": 0},
         "encoding": {
           "x": {"field": "t", "type": "quantitative", "scale": {"domain": [5, 30], "nice": false, "zero": false},
                 "axis": {"orient": "bottom", "values": [5,6,7,8,9,10,11,12,13,14,15,16,17,18,19,20,21,22,23,24,25,26,27,28,29,30],
                          "labelExpr": "datum.value % 5 === 0 ? datum.label : ''", "labelPadding": 33,
                          "title": "time (ms)", "titleFontSize": 36, "titlePadding": 2,
                          "tickSize": {"condition": {"test": "datum.value % 5 === 0", "value": -9}, "value": -5}}},
           "y": {"field": "v", "type": "quantitative", "scale": {"domain": [-10, 30], "nice": false, "zero": false},
                 "axis": {"orient": "left", "values": [-10,-5,0,5,10,15,20,25,30], "title": null,
                          "labelExpr": "datum.value === 0 || datum.value === 20 ? datum.label : ''", "labelPadding": 28,
                          "labelFontSize": {"condition": {"test": "datum.value === 0 || datum.value === 20", "value": 39}, "value": 0},
                          "tickSize": {"condition": {"test": "datum.value === 0 || datum.value === 20", "value": -12}, "value": -7}}}
         }},
        {"data": {"name": "axispt"}, "mark": {"type": "point", "opacity": 0},
         "encoding": {
           "x": {"field": "t", "type": "quantitative", "scale": {"domain": [5, 30], "nice": false, "zero": false},
                 "axis": {"orient": "top", "values": [5,6,7,8,9,10,11,12,13,14,15,16,17,18,19,20,21,22,23,24,25,26,27,28,29,30], "labels": false, "title": null,
                          "tickSize": {"condition": {"test": "datum.value % 5 === 0", "value": -9}, "value": -5}}},
           "y": {"field": "v", "type": "quantitative", "scale": {"domain": [-10, 30], "nice": false, "zero": false},
                 "axis": {"orient": "right", "values": [-10,-5,0,5,10,15,20,25,30], "labels": false, "title": null,
                          "tickSize": {"condition": {"test": "datum.value === 0 || datum.value === 20", "value": -12}, "value": -7}}}
         }},
        {"data": {"name": "vlines"},
         "mark": {"type": "rule", "color": "#111", "strokeWidth": 1.8, "strokeDash": [8, 6]},
         "encoding": {
           "x": {"field": "t", "type": "quantitative", "scale": {"domain": [5, 30], "nice": false, "zero": false}, "axis": null}
         }},
        {"data": {"name": "v_off"}, "mark": {"type": "line", "color": "#2546f2", "strokeWidth": 1.8, "clip": true},
         "encoding": {
           "x": {"field": "t", "type": "quantitative", "scale": {"domain": [5, 30], "nice": false, "zero": false}, "axis": null},
           "y": {"field": "v", "type": "quantitative", "scale": {"domain": [-10, 30], "nice": false, "zero": false}, "axis": null}
         }},
        {"data": {"name": "v_on"}, "mark": {"type": "line", "color": "#111", "strokeWidth": 1.8, "clip": true},
         "encoding": {
           "x": {"field": "t", "type": "quantitative", "scale": {"domain": [5, 30], "nice": false, "zero": false}, "axis": null},
           "y": {"field": "v", "type": "quantitative", "scale": {"domain": [-10, 30], "nice": false, "zero": false}, "axis": null}
         }},
        {"data": {"name": "v_ppcd"}, "mark": {"type": "line", "color": "#f5321e", "strokeWidth": 1.8, "clip": true},
         "encoding": {
           "x": {"field": "t", "type": "quantitative", "scale": {"domain": [5, 30], "nice": false, "zero": false}, "axis": null},
           "y": {"field": "v", "type": "quantitative", "scale": {"domain": [-10, 30], "nice": false, "zero": false}, "axis": null}
         }},
        {"data": {"name": "fit"}, "mark": {"type": "line", "color": "#f5321e", "strokeWidth": 3.5, "strokeDash": [11, 8], "clip": true},
         "encoding": {
           "x": {"field": "t", "type": "quantitative", "scale": {"domain": [5, 30], "nice": false, "zero": false}, "axis": null},
           "y": {"field": "v", "type": "quantitative", "scale": {"domain": [-10, 30], "nice": false, "zero": false}, "axis": null}
         }},
        {"data": {"values": [{}]}, "mark": {"type": "text", "text": "τ", "font": "Liberation Serif, DejaVu Serif", "fontStyle": "italic", "fontSize": 50, "align": "left", "baseline": "alphabetic", "color": "#d8241c"},
         "encoding": {
           "x": {"datum": 18.26, "type": "quantitative", "scale": {"domain": [5, 30], "nice": false, "zero": false}, "axis": null},
           "y": {"datum": 22.71, "type": "quantitative", "scale": {"domain": [-10, 30], "nice": false, "zero": false}, "axis": null}
         }},
        {"data": {"values": [{}]}, "mark": {"type": "text", "text": "sd", "font": "Liberation Serif, DejaVu Serif", "fontWeight": "bold", "fontSize": 36, "align": "left", "baseline": "alphabetic", "color": "#d8241c"},
         "encoding": {
           "x": {"datum": 19.3, "type": "quantitative", "scale": {"domain": [5, 30], "nice": false, "zero": false}, "axis": null},
           "y": {"datum": 20.99, "type": "quantitative", "scale": {"domain": [-10, 30], "nice": false, "zero": false}, "axis": null}
         }},
        {"data": {"values": [{}]}, "mark": {"type": "text", "text": "≃", "font": "DejaVu Serif", "fontSize": 50, "align": "left", "baseline": "alphabetic", "color": "#d8241c"},
         "encoding": {
           "x": {"datum": 21.0, "type": "quantitative", "scale": {"domain": [5, 30], "nice": false, "zero": false}, "axis": null},
           "y": {"datum": 22.71, "type": "quantitative", "scale": {"domain": [-10, 30], "nice": false, "zero": false}, "axis": null}
         }},
        {"data": {"values": [{}]}, "mark": {"type": "text", "text": "15", "font": "Liberation Serif, DejaVu Serif", "fontWeight": "bold", "fontSize": 54, "align": "left", "baseline": "alphabetic", "color": "#d8241c"},
         "encoding": {
           "x": {"datum": 23.3, "type": "quantitative", "scale": {"domain": [5, 30], "nice": false, "zero": false}, "axis": null},
           "y": {"datum": 22.71, "type": "quantitative", "scale": {"domain": [-10, 30], "nice": false, "zero": false}, "axis": null}
         }},
        {"data": {"values": [{}]}, "mark": {"type": "text", "text": "ms", "font": "Liberation Serif, DejaVu Serif", "fontSize": 52, "align": "left", "baseline": "alphabetic", "color": "#d8241c"},
         "encoding": {
           "x": {"datum": 26.15, "type": "quantitative", "scale": {"domain": [5, 30], "nice": false, "zero": false}, "axis": null},
           "y": {"datum": 22.71, "type": "quantitative", "scale": {"domain": [-10, 30], "nice": false, "zero": false}, "axis": null}
         }},
        {"data": {"values": [{}]}, "mark": {"type": "text", "text": "V", "font": "Liberation Sans", "fontSize": 38, "angle": 270, "align": "left", "baseline": "alphabetic", "color": "#000"},
         "encoding": {
           "x": {"datum": 1.182, "type": "quantitative", "scale": {"domain": [5, 30], "nice": false, "zero": false}, "axis": null},
           "y": {"datum": -3.69, "type": "quantitative", "scale": {"domain": [-10, 30], "nice": false, "zero": false}, "axis": null}
         }},
        {"data": {"values": [{}]}, "mark": {"type": "text", "text": "CV", "font": "Liberation Sans", "fontSize": 21, "angle": 270, "align": "left", "baseline": "alphabetic", "color": "#000"},
         "encoding": {
           "x": {"datum": 1.722, "type": "quantitative", "scale": {"domain": [5, 30], "nice": false, "zero": false}, "axis": null},
           "y": {"datum": -0.49, "type": "quantitative", "scale": {"domain": [-10, 30], "nice": false, "zero": false}, "axis": null}
         }},
        {"data": {"values": [{}]}, "mark": {"type": "text", "text": "core", "font": "Liberation Sans", "fontSize": 24, "angle": 270, "align": "left", "baseline": "alphabetic", "color": "#000"},
         "encoding": {
           "x": {"datum": 0.713, "type": "quantitative", "scale": {"domain": [5, 30], "nice": false, "zero": false}, "axis": null},
           "y": {"datum": -0.15, "type": "quantitative", "scale": {"domain": [-10, 30], "nice": false, "zero": false}, "axis": null}
         }},
        {"data": {"values": [{}]}, "mark": {"type": "text", "text": "(km/s)", "font": "Liberation Sans", "fontSize": 38, "angle": 270, "align": "left", "baseline": "alphabetic", "color": "#000"},
         "encoding": {
           "x": {"datum": 1.182, "type": "quantitative", "scale": {"domain": [5, 30], "nice": false, "zero": false}, "axis": null},
           "y": {"datum": 6.37, "type": "quantitative", "scale": {"domain": [-10, 30], "nice": false, "zero": false}, "axis": null}
         }}
      ]
    }
  ]
}
